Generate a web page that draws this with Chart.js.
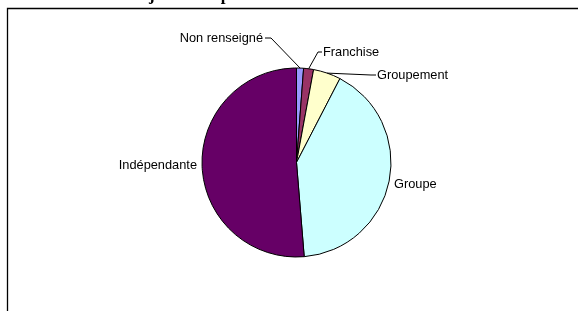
<!DOCTYPE html>
<html>
<head>
<meta charset="utf-8">
<script src="https://cdn.jsdelivr.net/npm/chart.js@4/dist/chart.umd.min.js"></script>
<style>
  html, body { margin: 0; padding: 0; background: #fff; }
  #wrap { position: relative; width: 578px; height: 311px; }
</style>
</head>
<body>
<div id="wrap"><canvas id="chart10" width="578" height="311"></canvas></div>
<script>
// data (share of pharmacies, %)
const categories = ['Non renseigné', 'Franchise', 'Groupement', 'Groupe', 'Indépendante'];
const values = [1.2, 1.7, 4.7, 41.1, 51.3];
const colors = ['#9999FF', '#993366', '#FFFFCC', '#CCFFFF', '#660066'];
const titleText = 'Statut de la majorité des pharmacies';

// label layout: text anchor, alignment and optional elbow of the leader line
const labelLayout = [
    {x: 263, y: 38, align: 'right', elbow: [271, 38]},
    {x: 323, y: 52, align: 'left', elbow: [318, 52]},
    {x: 377, y: 75, align: 'left', elbow: [371, 75]},
    {x: 394, y: 184, align: 'left', elbow: null},
    {x: 197, y: 165, align: 'right', elbow: null},
];

const labelFont = '12.8px "Liberation Sans", Arial, sans-serif';

const framePlugin = {
    id: 'frame',
    beforeDraw(chart) {
        const ctx = chart.ctx;
        ctx.save();
        ctx.strokeStyle = '#000';
        ctx.lineWidth = 1.3;
        ctx.beginPath();
        ctx.moveTo(7.5, 320);
        ctx.lineTo(7.5, 8.5);
        ctx.lineTo(590, 8.5);
        ctx.stroke();

        // title, cut off by the top of the window
        ctx.font = 'bold 17px "Liberation Serif", "Times New Roman", serif';
        ctx.fillStyle = '#000';
        ctx.textBaseline = 'alphabetic';
        const pre = 'Statut de la ma';
        const x0 = 149 - ctx.measureText(pre).width;
        ctx.fillText(titleText, x0, -0.5);
        ctx.restore();
    }
};

const labelPlugin = {
    id: 'pieLabels',
    afterDatasetsDraw(chart) {
        const ctx = chart.ctx;
        const meta = chart.getDatasetMeta(0);
        ctx.save();
        ctx.font = labelFont;
        ctx.fillStyle = '#000';
        ctx.strokeStyle = '#000';
        ctx.lineWidth = 1;
        ctx.textBaseline = 'middle';
        meta.data.forEach((arc, i) => {
            const p = arc.getProps(['x', 'y', 'startAngle', 'endAngle', 'outerRadius'], true);
            const mid = (p.startAngle + p.endAngle) / 2;
            const ex = p.x + Math.cos(mid) * p.outerRadius;
            const ey = p.y + Math.sin(mid) * p.outerRadius;
            const lab = labelLayout[i];
            if (lab.elbow) {
                const tx = lab.align === 'right' ? lab.x + 2 : lab.x - 1;
                ctx.beginPath();
                ctx.moveTo(ex, ey);
                ctx.lineTo(lab.elbow[0], lab.elbow[1]);
                ctx.lineTo(tx, lab.y);
                ctx.stroke();
            }
            ctx.textAlign = lab.align;
            ctx.fillText(categories[i], lab.x, lab.y);
        });
        ctx.restore();
    }
};

const ctx_pie = document.getElementById('chart10').getContext('2d');
const charInstance = new Chart(ctx_pie, {
    type: 'pie',
    data: {
        labels: categories,
        datasets: [
            {
                data: values,
                backgroundColor: colors,
                borderColor: '#000',
                borderWidth: 1,
            },
        ],
    },
    options: {
        responsive: false,
        animation: false,
        layout: {
            padding: {left: 201.5, right: 186.5, top: 67.5, bottom: 53.5},
        },
        plugins: {
            legend: {display: false},
            tooltip: {enabled: false},
            title: {display: false},
        },
    },
    plugins: [framePlugin, labelPlugin],
});
</script>
</body>
</html>
